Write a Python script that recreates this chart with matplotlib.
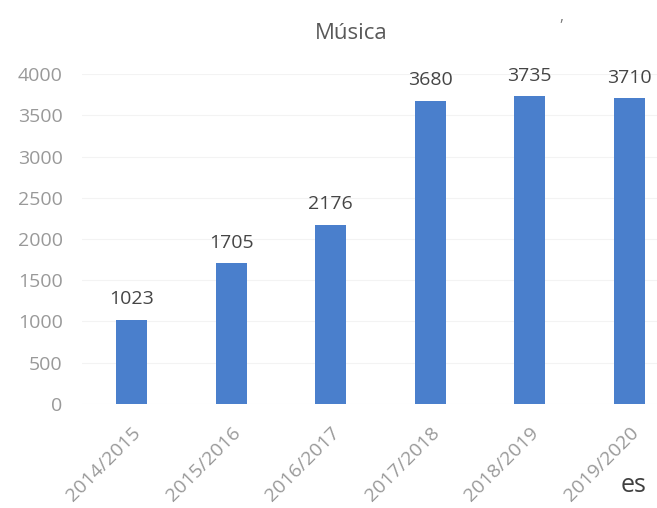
import matplotlib.pyplot as plt

plt.rcParams['font.family'] = ['Open Sans', 'DejaVu Sans']

cursos = ['2014/2015', '2015/2016', '2016/2017', '2017/2018', '2018/2019', '2019/2020']
alumnos = [1023, 1705, 2176, 3680, 3735, 3710]
yticks = [0, 500, 1000, 1500, 2000, 2500, 3000, 3500, 4000]

fig = plt.figure(figsize=(6.57, 5.08), dpi=100)
ax = fig.add_axes([0.125, 0.205, 0.875, 0.649])

x = range(len(cursos))
bars = ax.bar(x, alumnos, width=0.31, color='#4a7fcc', zorder=3)
for b, v in zip(bars, alumnos):
    ax.annotate(str(v), (b.get_x() + b.get_width() / 2, v), xytext=(0, 8),
                textcoords='offset points', ha='center', va='bottom',
                fontsize=14, color='#454545')

ax.set_xlim(-0.5, 5.28)
ax.set_ylim(0, 4000)
ax.set_yticks(yticks)
ax.set_yticklabels([str(t) for t in yticks], fontsize=14, color='#999999')
ax.set_xticks(list(x))
ax.set_xticklabels(cursos, rotation=45, ha='right', rotation_mode='anchor',
                   fontsize=14, color='#999999')
ax.tick_params(axis='y', length=0, pad=14)
ax.tick_params(axis='x', length=0, pad=14)
for lbl in ax.get_xticklabels():
    lbl.set_x(lbl.get_position()[0])
ax.grid(axis='y', color='#f3f3f3', linewidth=0.8, zorder=0)
for s in ax.spines.values():
    s.set_visible(False)

fig.text(0.535, 0.935, 'Música', ha='center', va='center', fontsize=16, color='#595959')
fig.text(0.855, 0.965, ',', ha='center', va='center', fontsize=11, color='#777777')
fig.text(0.945, 0.045, 'es', ha='left', va='center', fontsize=18, color='#404040')

fig.savefig('out.png', dpi=100)
